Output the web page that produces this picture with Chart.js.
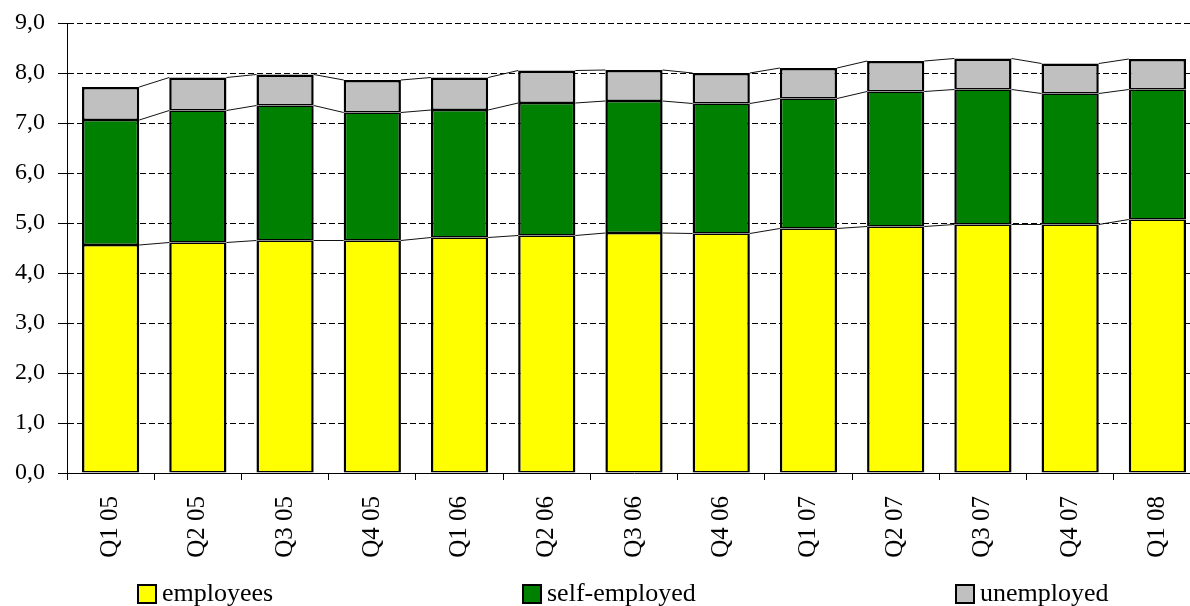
<!DOCTYPE html>
<html>
<head>
<meta charset="utf-8">
<script src="https://cdn.jsdelivr.net/npm/chart.js@4.4.1/dist/chart.umd.min.js"></script>
<style>
    html, body { margin: 0; padding: 0; background: #fff; overflow: hidden; }
    #wrap { position: relative; width: 1190px; height: 606px; overflow: hidden; }
    #chart { position: absolute; left: 0; top: 0; }
    .legend-item {
        position: absolute; top: 578px; height: 30px;
        font-family: 'Liberation Serif', 'Times New Roman', serif;
        font-size: 26px; line-height: 30px; color: #000; white-space: nowrap;
    }
    .legend-box {
        display: inline-block; width: 16px; height: 16px;
        border: 2px solid #000; vertical-align: top; margin-top: 6px; margin-right: 5px;
    }
</style>
</head>
<body>
<div id="wrap">
    <canvas id="chart" width="1201" height="606"></canvas>
    <div class="legend-item" style="left:137px"><span class="legend-box" style="background:#FFFF00"></span>employees</div>
    <div class="legend-item" style="left:522px"><span class="legend-box" style="background:#008000"></span>self-employed</div>
    <div class="legend-item" style="left:955px"><span class="legend-box" style="background:#C0C0C0"></span>unemployed</div>
</div>
<script>
const quarters = ['Q1 05', 'Q2 05', 'Q3 05', 'Q4 05', 'Q1 06', 'Q2 06', 'Q3 06',
    'Q4 06', 'Q1 07', 'Q2 07', 'Q3 07', 'Q4 07', 'Q1 08'];
const employees = [4.56, 4.61, 4.65, 4.65, 4.71, 4.75, 4.80, 4.79, 4.89, 4.93, 4.97, 4.97, 5.07];
const selfEmployed = [2.50, 2.64, 2.70, 2.56, 2.55, 2.65, 2.64, 2.60, 2.60, 2.70, 2.70, 2.62, 2.60];
const unemployed = [0.66, 0.66, 0.62, 0.65, 0.65, 0.65, 0.62, 0.61, 0.61, 0.61, 0.62, 0.60, 0.61];
const yTicks = [0, 1, 2, 3, 4, 5, 6, 7, 8, 9];

const serif = "'Liberation Serif', 'Times New Roman', serif";

// Excel-style series lines joining the top of each segment between bars
const seriesLines = {
    id: 'seriesLines',
    afterDatasetsDraw(chart) {
        const ctx = chart.ctx;
        ctx.save();
        ctx.strokeStyle = '#111';
        ctx.lineWidth = 1;
        chart.data.datasets.forEach((ds, d) => {
            const bars = chart.getDatasetMeta(d).data;
            for (let i = 0; i < bars.length - 1; i++) {
                const a = bars[i].getProps(['x', 'y', 'width'], true);
                const b = bars[i + 1].getProps(['x', 'y', 'width'], true);
                ctx.beginPath();
                ctx.moveTo(a.x + a.width / 2, a.y);
                ctx.lineTo(b.x - b.width / 2, b.y);
                ctx.stroke();
            }
        });
        ctx.restore();
    }
};

function bar(label, data, color, topWidth) {
    return {
        label: label,
        data: data,
        backgroundColor: color,
        borderColor: '#000',
        // shared edges between stacked segments end up about 3px, like the original
        borderWidth: { top: topWidth, bottom: 1.5, left: 2.5, right: 2.5 },
        borderSkipped: false,
        inflateAmount: 0,
        categoryPercentage: 1,
        barPercentage: 0.656
    };
}

new Chart(document.getElementById('chart'), {
    type: 'bar',
    data: {
        labels: quarters,
        datasets: [
            bar('employees', employees, '#FFFF00', 1.5),
            bar('self-employed', selfEmployed, '#008000', 1.5),
            bar('unemployed', unemployed, '#C0C0C0', 2.5)
        ]
    },
    options: {
        responsive: false,
        animation: false,
        devicePixelRatio: 1,
        layout: { padding: { top: 23, right: 0, left: 0, bottom: 0 } },
        plugins: {
            legend: { display: false },
            tooltip: { enabled: false }
        },
        scales: {
            x: {
                stacked: true,
                afterFit: function (scale) {
                    scale.height = 606 - 473;
                    scale.paddingLeft = 0;
                    scale.paddingRight = 0;
                },
                grid: {
                    drawOnChartArea: false,
                    drawTicks: true,
                    tickLength: 7,
                    offset: true,
                    color: '#000',
                    tickColor: '#000'
                },
                border: { display: true, color: '#000', width: 1 },
                ticks: {
                    maxRotation: 90,
                    minRotation: 90,
                    autoSkip: false,
                    padding: 16,
                    color: '#000',
                    font: { family: serif, size: 25 }
                }
            },
            y: {
                stacked: true,
                min: 0,
                max: 9,
                afterFit: function (scale) {
                    scale.width = 67;
                    scale.paddingTop = 0;
                    scale.paddingBottom = 0;
                },
                afterBuildTicks: function (scale) {
                    scale.ticks = yTicks.map(v => ({ value: v }));
                },
                grid: {
                    color: '#000',
                    lineWidth: 1,
                    tickLength: 9,
                    tickColor: '#000',
                    tickBorderDash: []
                },
                border: { display: true, color: '#000', width: 1, dash: [6, 3] },
                ticks: {
                    padding: 13,
                    color: '#000',
                    font: { family: serif, size: 24 },
                    callback: function (value) {
                        return value.toFixed(1).replace('.', ',');
                    }
                }
            }
        }
    },
    plugins: [seriesLines]
});
</script>
</body>
</html>
